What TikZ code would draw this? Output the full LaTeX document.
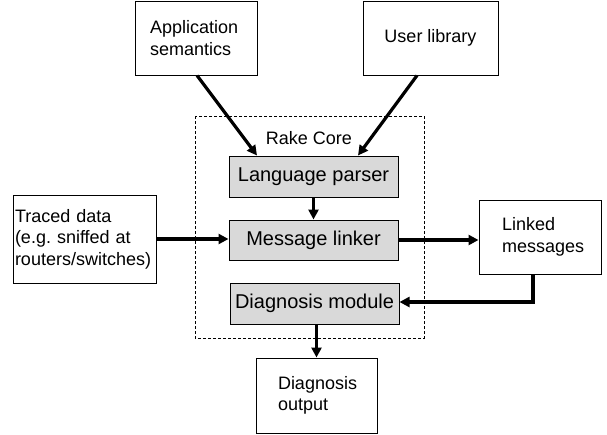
\documentclass[tikz,border=0pt]{standalone}
\usepackage{fontspec}
\setmainfont{Liberation Sans}
\usetikzlibrary{arrows.meta,calc}
\frenchspacing
\begin{document}
\begin{tikzpicture}[x=1pt,y=-1pt,
  outerbox/.style={draw=black,line width=1pt,fill=white,inner sep=0pt,
    font=\fontsize{18}{21.5}\selectfont},
  corebox/.style={draw=black,line width=1pt,fill=black!15,inner sep=0pt,
    minimum width=169pt,minimum height=41pt,font=\fontsize{20}{24}\selectfont},
  flow/.style={line width=3.2pt,-{Triangle[length=10pt,width=10pt]}},
  corefr/.style={draw=black,line width=0.8pt,dash pattern=on 3pt off 2pt}
]
\useasboundingbox (0,0) rectangle (607,434);
% dashed core frame
\draw[corefr] (195,116) rectangle (424,338);
\node[font=\fontsize{18}{21.5}\selectfont] (rake) at (309,138) {Rake Core};
% outer boxes
\node[outerbox,minimum width=122pt,minimum height=74pt,text width=92pt,align=left,inner xsep=15pt] (app) at (196,38) {Application\\semantics};
\node[outerbox,minimum width=135pt,minimum height=74pt] (user) at (430.5,38) {User library};
\node[outerbox,minimum width=143pt,minimum height=88pt,text width=139pt,align=left,inner xsep=2pt] (traced) at (84.5,239) {Traced data\\(e.g. sniffed at\\routers/switches)};
\node[outerbox,minimum width=122pt,minimum height=74pt,text width=76pt,align=left,inner xsep=23pt] (linked) at (540,237) {Linked\\messages};
\node[outerbox,minimum width=121pt,minimum height=75pt,text width=77pt,align=left,inner xsep=22pt] (out) at (316.5,395.5) {Diagnosis\\output};
% core boxes
\node[corebox] (lp) at (313.5,176.5) {Language parser};
\node[corebox,minimum height=40pt] (ml) at (313.5,240) {Message linker};
\node[corebox] (dm) at (314.5,303.5) {Diagnosis module};
% connectors
\draw[flow] ([xshift=1pt]app.south) -- ([xshift=-56.5pt]lp.north);
\draw[flow] ([xshift=-13.5pt]user.south) -- ([xshift=44.5pt]lp.north);
\draw[flow] (lp.south) -- (lp.south |- ml.north);
\draw[flow] (traced.east) -- (traced.east -| ml.west);
\draw[flow] (ml.east) -- (ml.east -| linked.west);
\draw[flow] ([xshift=-7pt]linked.south) |- ([yshift=1.5pt]dm.east);
\draw[flow] ([xshift=2pt]dm.south) -- ([xshift=2pt]dm.south |- out.north);
\end{tikzpicture}
\end{document}
